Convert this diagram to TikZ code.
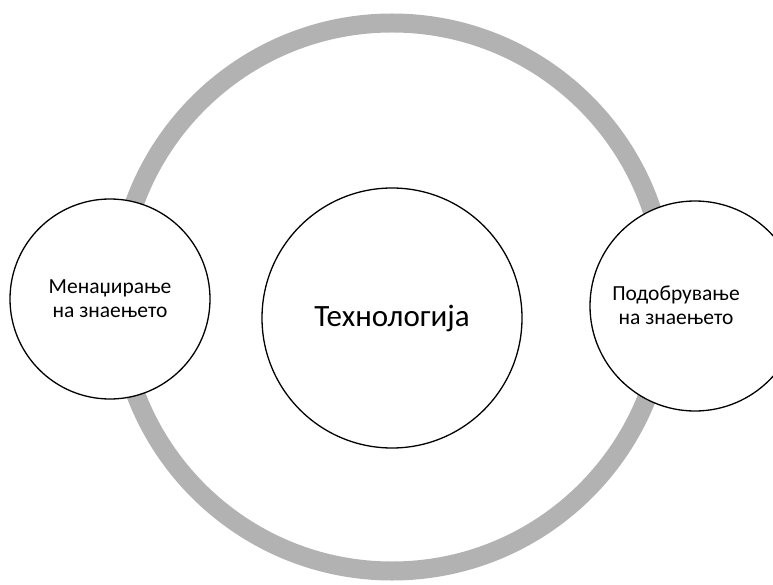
\documentclass[tikz,border=0pt]{standalone}
\usepackage{fontspec}
\setmainfont{Carlito}
\usepackage{tikz}

\definecolor{ringgray}{RGB}{178,178,178}

\begin{document}
\begin{tikzpicture}[x=1pt, y=-1pt,
	bubble/.style={circle, draw=black, line width=1.3pt, fill=white, inner sep=0pt},
	smalltext/.style={align=center, font=\fontsize{21.5}{24}\selectfont},
	bigtext/.style={font=\fontsize{31}{36}\selectfont}]
	\clip (0,0) rectangle (773,585);

	\node [circle, draw=ringgray, line width=19pt, minimum size=548pt, inner sep=0pt] (cycle) at (392,297) {};

	\node [bubble, minimum size=200pt, smalltext] (manage) at (110,299) {Менаџирање\\на знаењето};
	\node [bubble, minimum size=260pt, bigtext] (tech) at (392,318) {Технологија};
	\node [bubble, minimum size=210pt] (improve) at (695,306) {};
	\node [smalltext] (improvetext) at (676,305) {Подобрување\\на знаењето};
\end{tikzpicture}
\end{document}
